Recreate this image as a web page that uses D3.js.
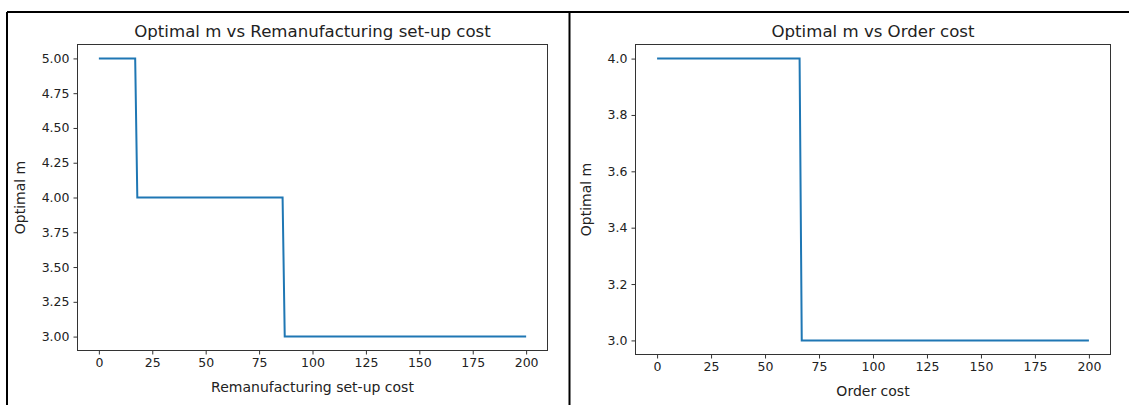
<!DOCTYPE html>
<html>
<head>
<meta charset="utf-8">
<script src="https://cdn.jsdelivr.net/npm/d3@7"></script>
<style>
  body { margin: 0; background: #fff; }
  svg { display: block; font-family: "DejaVu Sans", sans-serif; }
</style>
</head>
<body>
<svg id="board" width="1129" height="405"></svg>
<script>
// left panel: remanufacturing set-up cost
let remanCost = [0, 17, 18, 86, 87, 200]
let remanM = [5, 5, 4, 4, 3, 3]
let remanYTicks = [3.00, 3.25, 3.50, 3.75, 4.00, 4.25, 4.50, 4.75, 5.00]

// right panel: order cost
let orderCost = [0, 66, 67, 200]
let orderM = [4, 4, 3, 3]
let orderYTicks = [3.0, 3.2, 3.4, 3.6, 3.8, 4.0]

let xTicks = [0, 25, 50, 75, 100, 125, 150, 175, 200]

let board = d3.select('#board')

// output cell borders
board.append('line').attr('x1', 7).attr('x2', 1129).attr('y1', 12).attr('y2', 12)
    .attr('stroke', '#000').attr('stroke-width', 2)
board.append('line').attr('x1', 7).attr('x2', 7).attr('y1', 12).attr('y2', 405)
    .attr('stroke', '#000').attr('stroke-width', 2)
board.append('line').attr('x1', 569.5).attr('x2', 569.5).attr('y1', 12).attr('y2', 405)
    .attr('stroke', '#000').attr('stroke-width', 2)

let drawPanel = function(opt) {
    let xScale = d3.scaleLinear().domain([-10, 210]).range([opt.left, opt.right])
    let yScale = d3.scaleLinear().domain(opt.yDomain).range([opt.bottom, opt.top])

    let g = board.append('g')

    let xAxis = d3.axisBottom(xScale).tickValues(xTicks).tickSize(4).tickPadding(4)
    let yAxis = d3.axisLeft(yScale).tickValues(opt.yTicks).tickFormat(d3.format(opt.fmt))
        .tickSize(4).tickPadding(4)

    let gx = g.append('g').attr('transform', 'translate(0,' + opt.bottom + ')').call(xAxis)
    let gy = g.append('g').attr('transform', 'translate(' + opt.left + ',0)').call(yAxis)

    ;[gx, gy].forEach((a) => {
        a.select('.domain').remove()
        a.selectAll('line').attr('stroke', '#333')
        a.selectAll('text').attr('font-size', 12.5).attr('fill', '#222')
            .attr('font-family', '"DejaVu Sans", sans-serif')
    })

    // frame
    g.append('rect')
        .attr('x', opt.left).attr('y', opt.top)
        .attr('width', opt.right - opt.left).attr('height', opt.bottom - opt.top)
        .attr('fill', 'none').attr('stroke', '#333').attr('stroke-width', 1)

    let pts = opt.xs.map((x, i) => [x, opt.ys[i]])
    let line = d3.line().x((d) => xScale(d[0])).y((d) => yScale(d[1]))

    g.append('path')
        .attr('d', line(pts))
        .attr('fill', 'none')
        .attr('stroke', '#1f77b4')
        .attr('stroke-width', 2)

    g.append('text')
        .text(opt.title)
        .attr('x', (opt.left + opt.right) / 2)
        .attr('y', 37)
        .attr('text-anchor', 'middle')
        .attr('font-size', 16.6)
        .attr('fill', '#222')

    g.append('text')
        .text(opt.xLabel)
        .attr('x', (opt.left + opt.right) / 2)
        .attr('y', opt.bottom + 41)
        .attr('text-anchor', 'middle')
        .attr('font-size', 14)
        .attr('fill', '#222')

    g.append('text')
        .text('Optimal m')
        .attr('transform', 'translate(' + opt.yLabelX + ',' + (opt.top + opt.bottom) / 2 + ') rotate(-90)')
        .attr('text-anchor', 'middle')
        .attr('font-size', 14)
        .attr('fill', '#222')
}

drawPanel({
    left: 77.5, right: 547.5, top: 44.5, bottom: 350.5,
    yDomain: [2.9, 5.1], yTicks: remanYTicks, fmt: '.2f',
    xs: remanCost, ys: remanM,
    title: 'Optimal m vs Remanufacturing set-up cost',
    xLabel: 'Remanufacturing set-up cost',
    yLabelX: 25
})

drawPanel({
    left: 635.5, right: 1110.5, top: 44.5, bottom: 354.5,
    yDomain: [2.95, 4.05], yTicks: orderYTicks, fmt: '.1f',
    xs: orderCost, ys: orderM,
    title: 'Optimal m vs Order cost',
    xLabel: 'Order cost',
    yLabelX: 591
})
</script>
</body>
</html>
